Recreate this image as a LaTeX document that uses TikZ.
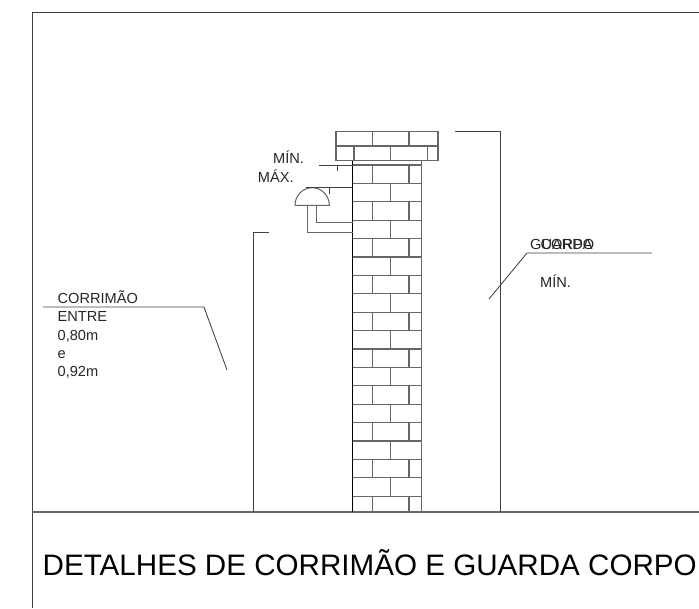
\documentclass[tikz,border=0pt]{standalone}
\usepackage{fontspec}
\setmainfont{Liberation Sans}
\usetikzlibrary{positioning}

\begin{document}
\begin{tikzpicture}[x=1pt,y=-1pt,
  wall line/.style={draw=black!60,line width=1.05pt},
  thin line/.style={draw=black!75,line width=0.85pt},
  main text/.style={font=\fontsize{14.6}{16}\selectfont,inner sep=0pt,anchor=base west,text=black!85}]

  \useasboundingbox (0,0) rectangle (699,608);

  % frame and ground
  \coordinate (frametop) at (699,12);
  \coordinate (framecorner) at (32,12);
  \coordinate (framebottom) at (32,608);
  \coordinate (groundleft) at (32,512);
  \coordinate (groundright) at (699,512);
  \draw[thin line] (frametop) -- (framecorner) -- (framebottom);
  \draw[wall line] (groundleft) -- (groundright);

  % coping
  \coordinate (copeA) at (336,131.5);
  \coordinate (copeB) at (438,160.5);
  \draw[wall line] (copeA) rectangle (copeB);
  \draw[wall line] (336,146) -- (438,146);
  \foreach \x in {372.3,409} \draw[wall line] (\x,131.5) -- (\x,146);
  \foreach \x in {354,390.7,427.3} \draw[wall line] (\x,146) -- (\x,160.5);

  % wall courses
  \foreach \k in {0,...,18} {
    \pgfmathsetmacro{\ya}{165+18.4*\k}
    \pgfmathsetmacro{\yb}{min(165+18.4*(\k+1),512)}
    \draw[wall line] (352.5,\ya) -- (421.5,\ya);
    \ifodd\k
      \draw[wall line] (390.7,\ya) -- (390.7,\yb);
    \else
      \draw[wall line] (372.3,\ya) -- (372.3,\yb);
      \draw[wall line] (409,\ya) -- (409,\yb);
    \fi
  }
  \coordinate (wallLtop) at (352.5,160.5);
  \coordinate (wallLbot) at (352.5,512);
  \coordinate (wallRtop) at (421.5,160.5);
  \coordinate (wallRbot) at (421.5,512);
  \draw[black,line width=0.9pt] (wallLtop) -- (wallLbot);
  \draw[wall line] (wallRtop) -- (wallRbot);

  % handrail
  \coordinate (domeL) at (295,205.3);
  \coordinate (domeR) at (329.3,205.3);
  \draw[wall line] (domeL) -- (domeR) arc[start angle=0,end angle=-180,x radius=17.15,y radius=17.6];
  \coordinate (topW) at (352.5,187.3);
  \coordinate (topE) at (305.7,187.3);
  \draw[thin line] (topE) -- (topW);
  \draw[wall line] (307.7,205.3) -- (307.7,232.3) -- (352.5,232.3);
  \draw[wall line] (316.7,205.3) -- (316.7,222.3) -- (352.5,222.3);

  % small dimensions
  \draw[thin line] (319,165) -- (352.5,165);
  \draw[thin line] (337.7,165) -- (337.7,171);
  \draw[thin line] (329,187.3) -- (329,194);

  % heights
  \coordinate (railA) at (269,232.3);
  \coordinate (railB) at (253.7,232.3);
  \coordinate (railC) at (253.7,512);
  \draw[thin line] (railA) -- (railB) -- (railC);
  \coordinate (guardA) at (455,131.3);
  \coordinate (guardB) at (500.7,131.3);
  \coordinate (guardC) at (500.7,512);
  \draw[thin line] (guardA) -- (guardB) -- (guardC);

  % leaders
  \coordinate (leadA) at (43,307);
  \coordinate (leadB) at (204,307);
  \coordinate (leadC) at (227,370);
  \draw[thin line] (leadA) -- (leadB) -- (leadC);
  \coordinate (leadD) at (489,299);
  \coordinate (leadE) at (527,253);
  \coordinate (leadF) at (652,253);
  \draw[thin line] (leadD) -- (leadE) -- (leadF);

  % texts
  \node[main text] (minA) at (273,163) {MÍN.};
  \node[main text] (maxA) at (257.7,182) {MÁX.};
  \node[main text] (corr) at (57.5,303) {CORRIMÃO};
  \node[main text] (entre) at (57.5,321.7) {ENTRE};
  \node[main text] (numA) at (57.5,340) {0,80m};
  \node[main text] (eword) at (57.5,358) {e};
  \node[main text] (numB) at (57.5,376.5) {0,92m};
  \node[main text] (guarda) at (530,249.3) {GUARDA};
  \node[main text] (corpo) at (540.5,249.3) {CORPO};
  \node[main text] (minB) at (540,287.7) {MÍN.};
  \node[main text,font=\fontsize{29.6}{32}\selectfont,text=black] (title) at (42.5,575) {DETALHES DE CORRIMÃO E GUARDA CORPO};
\end{tikzpicture}
\end{document}
